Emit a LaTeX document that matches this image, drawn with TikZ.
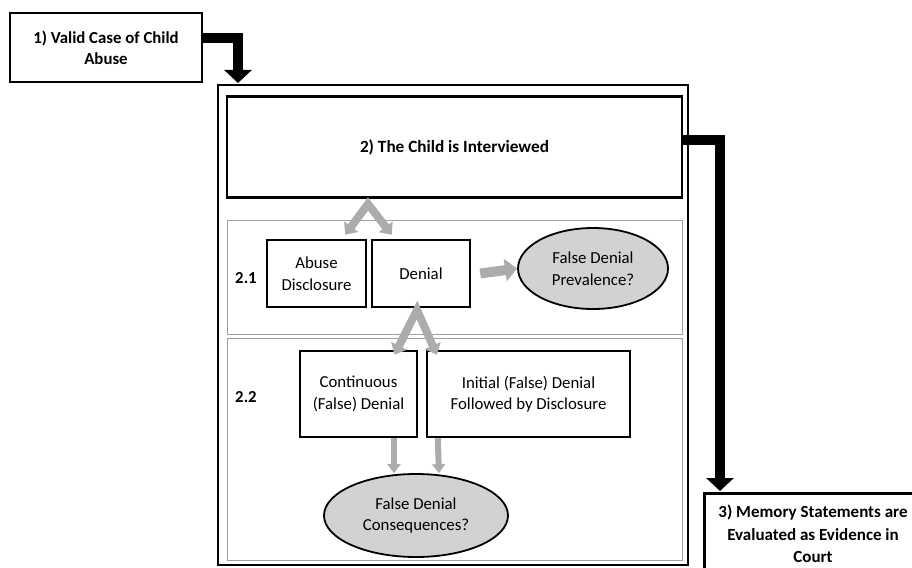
\documentclass[tikz,border=0pt]{standalone}
\usepackage{fontspec}
\setmainfont{Carlito}
\usetikzlibrary{arrows.meta,shapes.geometric,positioning}

\tikzset{
  blkbox/.style={draw=black,line width=2.5pt,align=center,inner sep=0pt},
  secbox/.style={draw=gray!75,line width=1pt},
  qoval/.style={ellipse,draw=black,line width=1.8pt,fill=gray!35,align=center,inner sep=0pt},
  blkarrow/.style={line width=10pt,-{Triangle[width=27pt,length=13pt]}},
  garrow/.style={draw=gray!65,line width=8pt},
}

\begin{document}
\begin{tikzpicture}[x=1pt,y=-1pt,font=\fontsize{16.8}{21.5}\selectfont]
\useasboundingbox (0,0) rectangle (912,567);
\clip (0,0) rectangle (912,567);

% outer frame and the two sections
\draw[line width=1.6pt] (218,85) rectangle (688,565);
\draw[secbox] (227,220) rectangle (682,334);
\draw[secbox] (227,338) rectangle (682,560);

% step boxes
\node[blkbox,minimum width=192pt,minimum height=69pt,font=\fontsize{16.8}{21}\selectfont\bfseries] (b1) at (106,47.5) {1) Valid Case of Child\\Abuse};
\node[blkbox,minimum width=455pt,minimum height=101pt,font=\fontsize{17.2}{21}\selectfont\bfseries] (b2) at (454.5,147) {2) The Child is Interviewed};
\node[blkbox,anchor=north west,minimum width=260pt,minimum height=90pt] (b3) at (703,492) {};
\node[font=\fontsize{17}{22.5}\selectfont\bfseries,align=center] (b3txt) at (813,534) {3) Memory Statements are\\Evaluated as Evidence in\\Court};

% section 2.1
\node[font=\fontsize{16.8}{21}\selectfont\bfseries] (l21) at (246,278) {2.1};
\node[blkbox,minimum width=99pt,minimum height=67pt] (ad) at (316.5,273.5) {Abuse\\Disclosure};
\node[blkbox,minimum width=98pt,minimum height=67pt] (dn) at (421,273.5) {Denial};
\node[qoval,minimum width=150pt,minimum height=81pt] (fp) at (593,268.5) {False Denial\\Prevalence?};

% section 2.2
\node[font=\fontsize{16.8}{21}\selectfont\bfseries] (l22) at (246,397) {2.2};
\node[blkbox,minimum width=117pt,minimum height=86pt] (cd) at (358.5,394) {Continuous\\(False) Denial};
\node[blkbox,minimum width=203pt,minimum height=86pt] (id) at (528.5,394) {Initial (False) Denial\\Followed by Disclosure};
\node[qoval,minimum width=184pt,minimum height=83pt] (fc) at (416,515.5) {False Denial\\Consequences?};

% black flow arrows
\coordinate (in2) at (238,83);
\coordinate (in3) at (720,491);
\draw[blkarrow] ([yshift=9.5pt]b1.east) -| (in2);
\draw[blkarrow] ([yshift=7pt]b2.east) -| (in3);

% grey arrows
\coordinate (apex1) at (368,204);
\coordinate (apex2) at (417,310);
\draw[garrow,{Triangle[width=17pt,length=10pt]}-{Triangle[width=17pt,length=10pt]}]
  ([xshift=-22pt,yshift=4pt]ad.north east) -- (apex1) -- ([xshift=21pt,yshift=4pt]dn.north west);
\draw[garrow,{Triangle[width=17pt,length=10pt]}-{Triangle[width=17pt,length=10pt]}]
  ([xshift=36pt,yshift=-5pt]cd.north) -- (apex2) -- ([xshift=11pt,yshift=-5pt]id.north west);
\draw[garrow,line width=10pt,-{Triangle[width=22pt,length=12pt]}] ([xshift=9pt]dn.east) -- (fp.west);
\draw[garrow,line width=6pt,-{Triangle[width=13pt,length=9pt]}] ([xshift=35.5pt]cd.south) -- ([xshift=-22pt]fc.north);
\draw[garrow,line width=6pt,-{Triangle[width=13pt,length=9pt]}] ([xshift=12pt]id.south west) -- ([xshift=23pt]fc.north);
\end{tikzpicture}
\end{document}
